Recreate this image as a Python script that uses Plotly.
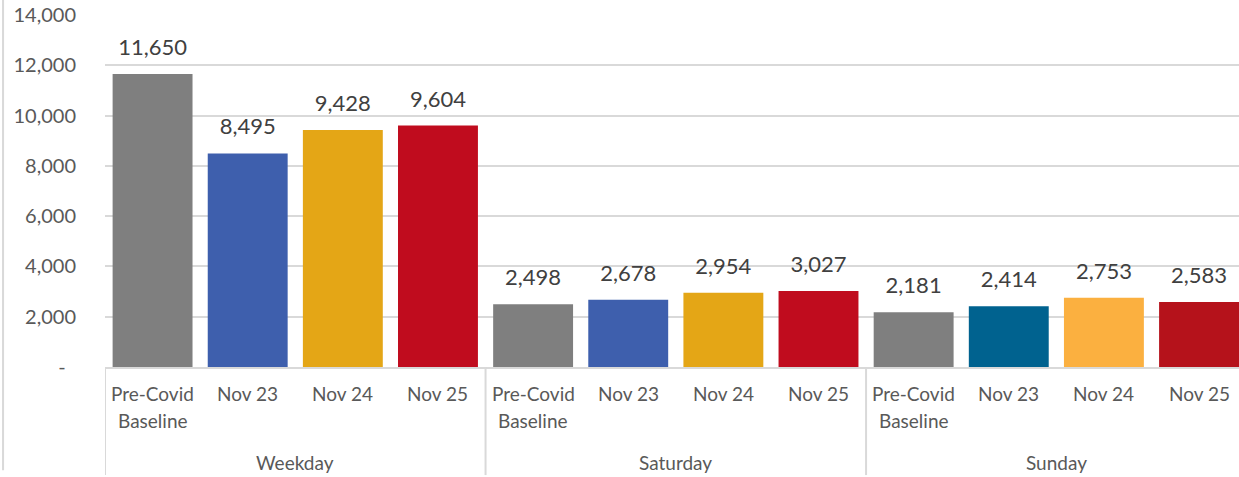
import plotly.graph_objects as go

groups = ["Weekday", "Saturday", "Sunday"]
periods = ["Pre-Covid", "Nov 23", "Nov 24", "Nov 25"]
periods_line2 = ["Baseline", "", "", ""]
weekday = [11650, 8495, 9428, 9604]
saturday = [2498, 2678, 2954, 3027]
sunday = [2181, 2414, 2753, 2583]
colors_weekday = ["#7F7F7F", "#3E5FAD", "#E4A616", "#C00C1E"]
colors_saturday = ["#7F7F7F", "#3E5FAD", "#E4A616", "#C00C1E"]
colors_sunday = ["#7F7F7F", "#00628F", "#FBB040", "#B5121B"]
ytick_vals = [0, 2000, 4000, 6000, 8000, 10000, 12000, 14000]
ytick_text = ["-\u00a0\u00a0", "2,000", "4,000", "6,000", "8,000", "10,000", "12,000", "14,000"]

values = weekday + saturday + sunday
colors = colors_weekday + colors_saturday + colors_sunday
n_per = len(periods)
xs = list(range(len(values)))

FONT = "Lato, 'Open Sans', sans-serif"
GRID = "#D9D9D9"
TXT = "#595959"

fig = go.Figure()
fig.add_trace(go.Bar(
    x=xs, y=values, marker=dict(color=colors, line=dict(width=0)),
    hoverinfo="skip", showlegend=False,
))
fig.add_trace(go.Scatter(
    x=xs, y=values, mode="markers+text",
    marker=dict(size=20, opacity=0),
    text=[f"{v:,}" for v in values], textposition="top center",
    textfont=dict(family=FONT, size=22, color="#404040"),
    hoverinfo="skip", showlegend=False, cliponaxis=False,
))

annotations = []
shapes = []
for gi, g in enumerate(groups):
    start = gi * n_per
    for pi in range(n_per):
        x = start + pi
        annotations.append(dict(x=x, y=0, xref="x", yref="paper", yanchor="middle",
                                yshift=-26, text=periods[pi], showarrow=False,
                                font=dict(family=FONT, size=19, color=TXT)))
        if periods_line2[pi]:
            annotations.append(dict(x=x, y=0, xref="x", yref="paper", yanchor="middle",
                                    yshift=-53, text=periods_line2[pi], showarrow=False,
                                    font=dict(family=FONT, size=19, color=TXT)))
    annotations.append(dict(x=start + (n_per - 1) / 2, y=0, xref="x", yref="paper", yanchor="middle",
                            yshift=-95, text=g, showarrow=False,
                            font=dict(family=FONT, size=19, color=TXT)))
    shapes.append(dict(type="line", xref="x", yref="paper", x0=start - 0.5, x1=start - 0.5,
                       y0=0, y1=-0.307, line=dict(color=GRID, width=2)))

shapes.append(dict(type="line", xref="paper", yref="paper", x0=-0.0899, x1=-0.0899, y0=-0.293, y1=1.05,
                   line=dict(color=GRID, width=2)))

fig.update_layout(
    width=1239, height=477,
    margin=dict(l=105, r=0, t=15, b=110),
    paper_bgcolor="white", plot_bgcolor="white",
    bargap=0.16,
    font=dict(family=FONT, size=16, color=TXT),
    xaxis=dict(
        range=[-0.5, 11.42],
        showline=True, linecolor=GRID, linewidth=2,
        showticklabels=False, showgrid=False, ticks="", zeroline=False,
    ),
    yaxis=dict(
        range=[0, 14000],
        tickvals=ytick_vals, ticktext=ytick_text,
        showgrid=True, gridcolor=GRID, gridwidth=2,
        zeroline=False, showline=False,
        ticklabelstandoff=28,
        tickfont=dict(family=FONT, size=20, color=TXT),
    ),
    annotations=annotations,
    shapes=shapes,
)

fig.write_html("out.html", config={"displayModeBar": False},
               post_script="document.body.style.margin='0';document.body.style.overflow='hidden';")
